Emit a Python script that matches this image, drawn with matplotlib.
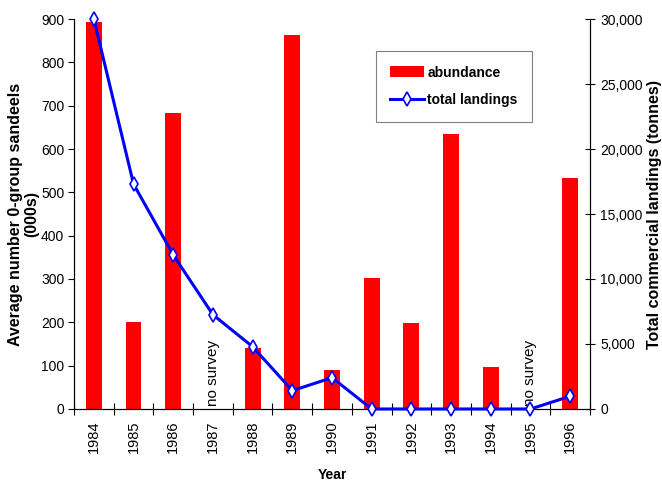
import matplotlib
matplotlib.use('Agg')
import matplotlib.pyplot as plt
import numpy as np

plt.rcParams['font.family'] = ['Liberation Sans', 'DejaVu Sans']

years = ['1984', '1985', '1986', '1987', '1988', '1989', '1990',
         '1991', '1992', '1993', '1994', '1995', '1996']
# abundance (000s); None = no survey
abundance = [892, 200, 682, None, 140, 862, 90, 302, 198, 634, 97, None, 532]
# total landings (tonnes)
landings = [30000, 17300, 11850, 7250, 4790, 1410, 2410, 0, 0, 0, 0, 0, 980]

x = np.arange(len(years))
abund_vals = [v if v is not None else 0 for v in abundance]

fig = plt.figure(figsize=(6.62, 4.84), dpi=100)
ax = fig.add_axes([0.1118, 0.155, 0.7795, 0.8057])
ax2 = ax.twinx()

bars = ax.bar(x, abund_vals, width=0.4, color='#ff0000', label='abundance', zorder=2)
line, = ax2.plot(x, landings, color='#0000ff', lw=2.2, marker='d', ms=7,
                 mfc='white', mec='#0000ff', mew=1.2, label='total landings',
                 clip_on=False, zorder=3)

# "no survey" notes
for i, v in enumerate(abundance):
    if v is None:
        ax.text(i, 6, 'no survey', rotation=90, ha='center', va='bottom',
                fontsize=11)

ax.set_xlim(-0.5, len(years) - 0.5)
ax.set_ylim(0, 900)
ax2.set_ylim(0, 30000)
ax.set_yticks(np.arange(0, 901, 100))
ax2.set_yticks(np.arange(0, 30001, 5000))
ax2.set_yticklabels([f'{int(v):,}' for v in np.arange(0, 30001, 5000)])

ax.set_xticks(x)
ax.set_xticklabels(years, rotation=90, fontsize=10.5)
ax.set_xticks(np.arange(-0.5, len(years)), minor=True)
ax.tick_params(axis='x', which='major', length=0, pad=8)
ax.tick_params(axis='x', which='minor', length=8, direction='inout', width=0.8)
ax.tick_params(axis='y', labelsize=10, length=4, width=0.8, pad=3)
ax2.tick_params(axis='y', labelsize=10, length=7, width=0.8, direction='inout', pad=4)

for a in (ax, ax2):
    a.spines['top'].set_visible(False)
    for s in ('left', 'bottom', 'right'):
        a.spines[s].set_linewidth(0.8)

ax.set_ylabel('Average number 0-group sandeels\n(000s)', fontsize=11.5,
              fontweight='bold', linespacing=1.1)
ax.yaxis.set_label_coords(-0.067, 0.5)
ax2.set_ylabel('Total commercial landings (tonnes)', fontsize=11.5,
               fontweight='bold')
ax2.yaxis.set_label_coords(1.11, 0.5)
ax.set_xlabel('Year', fontsize=10, fontweight='bold')
ax.xaxis.set_label_coords(0.5, -0.152)

ax.set_zorder(1)
ax.patch.set_visible(False)
ax2.set_zorder(2)

leg = ax2.legend([bars, line], ['abundance', 'total landings'],
                 loc='upper left', bbox_to_anchor=(0.585, 0.918),
                 fancybox=False, edgecolor='#606060',
                 borderpad=1.05, handlelength=2.45, handleheight=0.85,
                 handletextpad=0.2, labelspacing=1.0, borderaxespad=0,
                 prop={'weight': 'bold', 'size': 10})
leg.get_frame().set_linewidth(0.8)
leg.set_zorder(5)

fig.savefig('out.png', dpi=100)
